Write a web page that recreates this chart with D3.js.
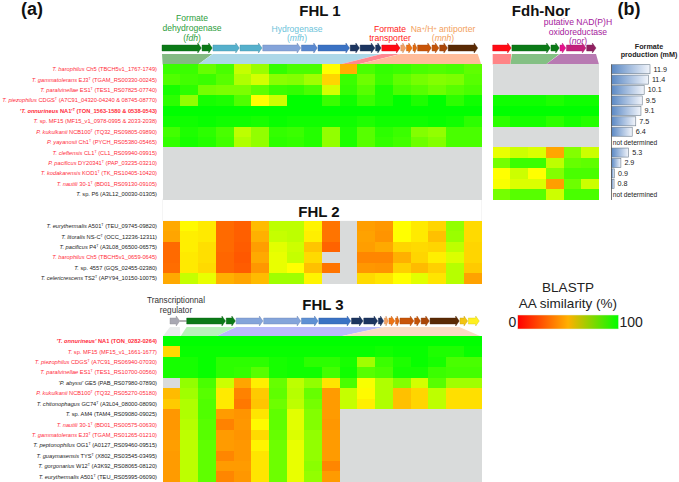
<!DOCTYPE html>
<html>
<head>
<meta charset="utf-8">
<script src="https://cdn.jsdelivr.net/npm/d3@7"></script>
<style>
html, body { margin: 0; padding: 0; background: #fff; }
svg { display: block; font-family: "Liberation Sans", Arial, sans-serif; }
</style>
</head>
<body>
<svg id="chart" width="679" height="482"></svg>
<script>
// labels: italic part | strain | superscript | locus tags
const fhl1Labels = [
	"T. barophilus|Ch5||TBCH5v1_1767-1749",
	"T. gammatolerans|EJ3|T|TGAM_RS00330-00245",
	"T. paralvinellae|ES1|T|TES1_RS07825-07740",
	"T. piezophilus|CDGS|T|A7C91_04320-04240 & 08745-08770",
	"'T. onnurineus|NA1'|T|TON_1563-1580 & 0538-0543",
	"T.|sp. MF15||MF15_v1_0978-0995 & 2033-2038",
	"P. kukulkanii|NCB100|T|TQ32_RS09805-09890",
	"P. yayanosii|Ch1|T|PYCH_RS05380-05465",
	"T. cleftensis|CL1|T|CL1_RS09940-09915",
	"P. pacificus|DY20341|T|PAP_03235-03210",
	"T. kodakarensis|KOD1|T|TK_RS10405-10420",
	"T. nautili|30-1|T|BD01_RS09130-09105",
	"T.|sp. P6||A3L12_00030-01305"
];
const fhl1Red = [0, 1, 2, 3, 4, 5, 6, 7, 8, 9, 10, 11];
const fhl1Bold = [4];

const fhl2Labels = [
	"T. eurythermalis|A501|T|TEU_09745-09820",
	"T. litoralis|NS-C|T|OCC_12236-12311",
	"T. pacificus|P4|T|A3L08_06500-06575",
	"T. barophilus|Ch5||TBCH5v1_0659-0645",
	"T.|sp. 4557||GQS_02455-02380",
	"T. celericrescens|TS2|T|APY94_10150-10075"
];
const fhl2Red = [3];

const fhl3Labels = [
	"'T. onnurineus'|NA1||TON_0282-0264",
	"T.|sp. MF15||MF15_v1_1661-1677",
	"T. piezophilus|CDGS|T|A7C91_RS06940-07030",
	"T. paralvinellae|ES1|T|TES1_RS10700-00560",
	"'P. abyssi'|GE5||PAB_RS07980-07890",
	"P. kukulkanii|NCB100|T|TQ32_RS05270-05180",
	"T. chitonophagus|GC74|T|A3L04_08000-08090",
	"T.|sp. AM4||TAM4_RS09080-09025",
	"T. nautili|30-1|T|BD01_RS00575-00630",
	"T. gammatolerans|EJ3|T|TGAM_RS01265-01210",
	"T. peptonophilus|OG1|T|A0127_RS09460-09515",
	"T. guaymasensis|TYS|T|X802_RS03545-03495",
	"T. gorgonarius|W12|T|A3K92_RS08065-08120",
	"T. eurythermalis|A501|T|TEU_RS05995-06090"
];
const fhl3Red = [0, 1, 2, 3, 5, 8, 9];
const fhl3Bold = [0];

// BLASTP similarity (%), null = no homolog
const fhl1Values = [
	[92, 92, 86, 90, 73, 79, 93, 90, 90, 65, 50, 90, 93, 92, 90, 89, 90, 87],
	[89, 91, 92, 88, 76, 71, 81, 82, 78, 57, 92, 85, 92, 87, 84, 82, 83, 88],
	[97, 94, 84, 83, 83, 87, 92, 93, 90, 71, 93, 88, 96, 90, 88, 85, 88, 90],
	[94, 80, 97, 96, 89, 65, 72, 100, 100, 92, 98, 92, 96, 100, 96, 100, 94, 98],
	[100, 100, 100, 100, 100, 100, 100, 100, 100, 100, 100, 100, 100, 100, 100, 100, 100, 100],
	[98, 98, 99, 98, 98, 97, 99, 98, 98, 98, 98, 96, 98, 98, 98, 99, 98, 94],
	[91, 96, 94, 90, 74, 80, 93, 92, 95, 80, 96, 88, 94, 92, 82, 80, 90, 90],
	[93, 97, 95, 91, 76, 80, 94, 93, 95, 80, 96, 88, 93, 91, 85, 82, 90, 90],
	[null, null, null, null, null, null, null, null, null, null, null, null, null, null, null, null, null, null],
	[null, null, null, null, null, null, null, null, null, null, null, null, null, null, null, null, null, null],
	[null, null, null, null, null, null, null, null, null, null, null, null, null, null, null, null, null, null],
	[null, null, null, null, null, null, null, null, null, null, null, null, null, null, null, null, null, null],
	[null, null, null, null, null, null, null, null, null, null, null, null, null, null, null, null, null, null]
];
const fdhNorValues = [
	[null, null, null, null, null, null],
	[null, null, null, null, null, null],
	[null, null, null, null, null, null],
	[98, 98, 98, 96, 98, 98],
	[100, 100, 100, 100, 100, 100],
	[94, 97, 97, 94, 97, 95],
	[null, null, null, null, null, null],
	[null, null, null, null, null, null],
	[68, 72, 70, 47, 82, 72],
	[84, 92, 92, 74, 86, 87],
	[65, 72, 65, 82, 90, 90],
	[66, 70, 70, 45, 85, 72],
	[84, 88, 88, 72, 90, 90]
];
const fhl2Values = [
	[48, 64, 61, 30, 27, 52, 74, 74, 63, 33, null, 45, 43, 65, 61, 57, 80, 58],
	[47, 62, 61, 30, 27, 50, 73, 74, 62, 33, null, 46, 42, 65, 61, 53, 79, 58],
	[30, 62, 59, 30, 26, 45, 69, 72, 54, 28, null, 45, 48, 57, 58, 57, 74, 57],
	[30, 61, 59, 29, 25, 48, 68, 73, 58, null, null, 38, 38, 50, 57, 62, 70, 57],
	[31, 61, 58, 29, 26, 43, 68, 65, 53, 33, null, 43, 42, 56, 52, 56, 75, 55],
	[48, 73, 68, 50, 47, 52, 78, 78, 63, null, null, 58, 60, 65, 69, 60, 75, 46]
];
const fhl3Values = [
	[100, 100, 100, 100, 100, 100, 100, 100, 100, 100, 100, 100, 100, 100, 100, 100, 100, 100],
	[58, 99, 99, 99, 99, 99, 99, 99, 99, 99, 99, 99, 98, 99, 99, 96, 96, 99],
	[97, 97, 99, 94, 94, 94, 97, 98, 94, 94, 97, 78, 92, 96, 99, 97, 90, 90],
	[97, 97, 99, 94, 93, 88, 97, 98, 98, 91, 98, 88, 90, 97, 97, 92, 91, 91],
	[null, 80, 90, 72, 47, 62, 86, 74, 80, 60, 90, 66, 76, 82, 71, 88, 78, 78],
	[52, 78, 88, 61, 37, 55, 87, 75, 86, 44, 73, 64, 76, 53, 57, 74, 59, 59],
	[55, 76, 89, 61, 34, 54, 85, 74, 84, 44, 73, 62, 76, 53, 57, 74, 59, 59],
	[43, 76, 89, 44, 42, 60, 87, 69, 82, 44, null, null, null, null, null, null, null, null],
	[43, 75, 88, 37, 43, 64, 87, 69, 82, 43, null, null, null, null, null, null, null, null],
	[44, 74, 88, 44, 42, 58, 86, 70, 80, 44, null, null, null, null, null, null, null, null],
	[45, 74, 87, 44, 43, 63, 85, 68, 80, 44, null, null, null, null, null, null, null, null],
	[44, 74, 87, 38, 43, 60, 85, 68, 80, 44, null, null, null, null, null, null, null, null],
	[44, 74, 87, 44, 44, 60, 85, 68, 81, 38, null, null, null, null, null, null, null, null],
	[44, 74, 87, 38, 43, 60, 85, 68, 80, 44, null, null, null, null, null, null, null, null]
];

// formate production (mM), same rows as FHL 1, null = not determined
const formate = [11.9, 11.4, 10.1, 9.5, 9.1, 7.5, 6.4, null, 5.3, 2.9, 0.9, 0.8, null];

// gene lengths (bp, estimated from the arrows)
const fhl1Genes = [2000, 520, 1340, 1120, 1930, 810, 1600, 470, 750, 280, 930, 250, 300, 200, 700, 350, 400, 1500];
const fdhNorGenes = [930, 1930, 420, 290, 980, 470];
const fhl3Genes = [500, 1980, 470, 1370, 1890, 850, 1630, 590, 710, 270, 200, 300, 190, 710, 300, 420, 1490, 390, 560];
const fhl3Spacer = 350;

const fhl1GeneColors = ["#0b7a17", "#0b7a17", "#55b0cc", "#55b0cc", "#84a4da", "#5a88d0", "#3a72c4", "#1c3560", "#1c3560", "#1c3560", "#ff0a14", "#f3a264", "#ee7414", "#e06a10", "#c85408", "#c45408", "#aa4608", "#5a2a04"];
const fdhNorGeneColors = ["#ff0a14", "#0b7a17", "#0b7a17", "#e6108c", "#c4207c", "#902060"];
const fhl3GeneColors = ["#a8a8b2", "#0b7a17", "#0b7a17", "#84a4da", "#84a4da", "#5f90d4", "#3a72c4", "#1c3560", "#1c3560", "#1c3560", "#f3a264", "#ee7414", "#e06a10", "#c85408", "#c45408", "#aa4608", "#5a2a04", "#f2c412", "#fff020"];

// links gene -> column: first gene, last gene, first column, last column
const fhl1Links = [[0, 1, 0, 1], [2, 9, 2, 9], [10, 10, 10, 10], [11, 17, 11, 17]];
const fhl1LinkColors = ["#84ba84", "#add8e8", "#ff8890", "#ffbc9a"];
const fdhNorLinks = [[0, 0, 0, 0], [1, 2, 1, 2], [3, 5, 3, 5]];
const fdhNorLinkColors = ["#ff8486", "#84c084", "#b87ab2"];
const fhl3Links = [[0, 0, 0, 0], [1, 2, 1, 2], [3, 9, 3, 9], [10, 16, 10, 17]];
const fhl3LinkColors = ["#e9ecec", "#b9f2ba", "#babafa", "#fadcc4"];

const svg = d3.select("#chart");
const rowH = 10.42;
const nullColor = "#d9dbdb";
const redText = "#ff2b3a";
const blackText = "#222";

// bright yellow in the cells sits between the legend's orange and green
const cellColor = d3.scaleLinear().domain([0, 50, 65, 100]).range(["#ff0000", "#ffb000", "#ffff00", "#00ff00"]);

const fhlX = d3.scaleBand().domain(d3.range(18)).range([162.7, 481.3]);
const norX = d3.scaleBand().domain(d3.range(6)).range([492.7, 599]);
const fhl1Y = d3.scaleBand().domain(d3.range(13)).range([64, 64 + 13 * rowH]);
const fhl2Y = d3.scaleBand().domain(d3.range(6)).range([221, 221 + 6 * rowH]);
const fhl3Y = d3.scaleBand().domain(d3.range(14)).range([336, 336 + 14 * rowH]);

const defs = svg.append("defs");
const barGrad = defs.append("linearGradient").attr("id", "barGrad");
barGrad.append("stop").attr("offset", "0%").attr("stop-color", "#5a88c4");
barGrad.append("stop").attr("offset", "100%").attr("stop-color", "#f2f5fb");
const legendGrad = defs.append("linearGradient").attr("id", "legendGrad");
[["0%", "#ff0000"], ["50%", "#ffb000"], ["100%", "#00ff00"]].forEach(s => {
	legendGrad.append("stop").attr("offset", s[0]).attr("stop-color", s[1]);
});

function drawHeat(values, x, y) {
	const g = svg.append("g").attr("shape-rendering", "crispEdges");
	values.forEach((row, r) => {
		g.selectAll(null)
			.data(row)
			.enter().append("rect")
			.attr("x", (d, c) => x(c))
			.attr("y", y(r))
			.attr("width", x.bandwidth() + 0.4)
			.attr("height", y.bandwidth() + 0.4)
			.attr("fill", d => d === null ? nullColor : cellColor(d));
	});
}

function drawLabels(labels, y, red, bold) {
	const t = svg.append("g").selectAll("text")
		.data(labels)
		.enter().append("text")
		.attr("x", 157)
		.attr("y", (d, i) => y(i) + y.bandwidth() / 2 + 2)
		.attr("text-anchor", "end")
		.style("font-size", "5.7px")
		.style("font-weight", (d, i) => bold.includes(i) ? "bold" : "normal")
		.attr("fill", (d, i) => red.includes(i) ? redText : blackText);
	t.each(function(d) {
		const p = d.split("|"), el = d3.select(this);
		el.append("tspan").style("font-style", "italic").text(p[0]);
		el.append("tspan").text(" " + p[1]);
		if (p[2]) {
			el.append("tspan").attr("dy", -2).style("font-size", "3.6px").text(p[2]);
			el.append("tspan").attr("dy", 2).text(" (" + p[3] + ")");
		} else {
			el.append("tspan").text(" (" + p[3] + ")");
		}
	});
}

// lay genes end to end, returns [{start, end}] in px
function layoutGenes(lengths, x0, x1, firstGap) {
	const gap = 35;
	let pos = 0;
	const out = lengths.map((len, i) => {
		if (i === 1 && firstGap) pos += firstGap;
		else if (i > 0) pos += gap;
		const g = { start: pos, end: pos + len };
		pos += len;
		return g;
	});
	const sx = d3.scaleLinear().domain([0, pos]).range([x0, x1]);
	return out.map(g => ({ start: sx(g.start), end: sx(g.end) }));
}

function arrowPath(g, cy) {
	const head = Math.min(3.6, (g.end - g.start) * 0.6);
	const neck = g.end - head;
	return d3.line()([
		[g.start, cy - 3], [neck, cy - 3], [neck, cy - 5], [g.end, cy],
		[neck, cy + 5], [neck, cy + 3], [g.start, cy + 3]
	]) + "Z";
}

function drawGenes(genes, colors, cy) {
	svg.append("g").selectAll("path")
		.data(genes)
		.enter().append("path")
		.attr("d", d => arrowPath(d, cy))
		.attr("fill", (d, i) => colors[i])
		.attr("stroke", (d, i) => d3.color(colors[i]).darker(0.6))
		.attr("stroke-width", 0.4);
}

function drawLinks(links, colors, genes, x, yTop, yBottom) {
	svg.append("g").selectAll("path")
		.data(links)
		.enter().append("path")
		.attr("d", d => d3.line()([
			[genes[d[0]].start, yTop], [genes[d[1]].end, yTop],
			[x(d[3]) + x.bandwidth(), yBottom], [x(d[2]), yBottom]
		]) + "Z")
		.attr("fill", (d, i) => colors[i]);
}

function addText(str, x, y, size, color, opts) {
	opts = opts || {};
	return svg.append("text")
		.attr("x", x)
		.attr("y", y)
		.attr("text-anchor", opts.anchor || "middle")
		.style("font-size", size + "px")
		.style("font-weight", opts.bold ? "bold" : "normal")
		.style("font-style", opts.italic ? "italic" : "normal")
		.attr("fill", color)
		.text(str);
}

// faint frame of the gap between FHL 1 and FHL 2
svg.append("rect")
	.attr("x", 162.7).attr("y", 199).attr("width", 318.6).attr("height", 22)
	.attr("fill", "none").attr("stroke", "#eeeeee").attr("stroke-width", 0.6);

const fhl1Layout = layoutGenes(fhl1Genes, 162, 477.7);
const norLayout = layoutGenes(fdhNorGenes, 492.7, 596);
const fhl3Layout = layoutGenes(fhl3Genes, 170, 479.3, fhl3Spacer);

drawLinks(fhl1Links, fhl1LinkColors, fhl1Layout, fhlX, 54, 64.5);
drawLinks(fdhNorLinks, fdhNorLinkColors, norLayout, norX, 54, 64.5);
drawLinks(fhl3Links, fhl3LinkColors, fhl3Layout, fhlX, 327, 336.5);

svg.append("line")
	.attr("x1", fhl3Layout[0].end).attr("x2", fhl3Layout[1].start)
	.attr("y1", 321).attr("y2", 321)
	.attr("stroke", "#222").attr("stroke-width", 0.7);

drawGenes(fhl1Layout, fhl1GeneColors, 48);
drawGenes(norLayout, fdhNorGeneColors, 48);
drawGenes(fhl3Layout, fhl3GeneColors, 321);

drawHeat(fhl1Values, fhlX, fhl1Y);
drawHeat(fdhNorValues, norX, fhl1Y);
drawHeat(fhl2Values, fhlX, fhl2Y);
drawHeat(fhl3Values, fhlX, fhl3Y);

drawLabels(fhl1Labels, fhl1Y, fhl1Red, fhl1Bold);
drawLabels(fhl2Labels, fhl2Y, fhl2Red, []);
drawLabels(fhl3Labels, fhl3Y, fhl3Red, fhl3Bold);

// panel titles
addText("(a)", 32, 15, 18, "#111", { bold: true });
addText("(b)", 629, 15, 18, "#111", { bold: true });
addText("FHL 1", 320, 16, 15, "#111", { bold: true });
addText("Fdh-Nor", 541, 16, 15, "#111", { bold: true });
addText("FHL 2", 319, 217, 15, "#111", { bold: true });
addText("FHL 3", 323, 310, 15, "#111", { bold: true });

// gene group captions
const green = "#2d9e3c", blue = "#6dc3da", red = "#ff2020", orange = "#f3a05c", purple = "#a5209c";
addText("Formate", 192, 21, 8.6, green);
addText("dehydrogenase", 192, 31, 8.6, green);
const fdhCap = addText("(", 192, 41, 8.6, green);
fdhCap.append("tspan").style("font-style", "italic").text("fdh");
fdhCap.append("tspan").text(")");
addText("Hydrogenase", 297, 32, 8.6, blue);
const mfhCap = addText("(", 297, 41, 8.6, blue);
mfhCap.append("tspan").style("font-style", "italic").text("mfh");
mfhCap.append("tspan").text(")");
addText("Formate", 390, 32, 8.6, red);
addText("transporter", 390, 41, 8.6, red);
const naCap = addText("Na", 443, 32, 8.6, orange);
naCap.append("tspan").attr("dy", -2).style("font-size", "5.5px").text("+");
naCap.append("tspan").attr("dy", 2).text("/H");
naCap.append("tspan").attr("dy", -2).style("font-size", "5.5px").text("+");
naCap.append("tspan").attr("dy", 2).text(" antiporter");
const mnhCap = addText("(", 443, 41, 8.6, orange);
mnhCap.append("tspan").style("font-style", "italic").text("mnh");
mnhCap.append("tspan").text(")");
addText("putative NAD(P)H", 578, 25, 8.6, purple);
addText("oxidoreductase", 578, 35, 8.6, purple);
const norCap = addText("(", 578, 44, 8.6, purple);
norCap.append("tspan").style("font-style", "italic").text("nor");
norCap.append("tspan").text(")");
addText("Transcriptionnal", 176, 303, 8.2, "#333");
addText("regulator", 176, 313, 8.2, "#333");

// panel (b): formate bars
const barX = d3.scaleLinear().domain([0, 11.9]).range([611.5, 650]);
addText("Formate", 649, 48.5, 7.2, "#222", { bold: true });
addText("production (mM)", 649, 56.8, 7.2, "#222", { bold: true });

svg.append("g")
	.selectAll("rect")
	.data(formate.map((v, i) => ({ v: v, i: i })).filter(d => d.v !== null))
	.enter().append("rect")
	.attr("x", barX(0))
	.attr("y", d => fhl1Y(d.i) + 0.7)
	.attr("width", d => barX(d.v) - barX(0))
	.attr("height", fhl1Y.bandwidth() - 1.4)
	.attr("fill", "url(#barGrad)")
	.attr("stroke", "#6c7c8c")
	.attr("stroke-width", 0.6);

svg.append("g").selectAll("text")
	.data(formate)
	.enter().append("text")
	.attr("x", d => d === null ? 612.7 : barX(d) + 3.5)
	.attr("y", (d, i) => fhl1Y(i) + fhl1Y.bandwidth() / 2 + 2.4)
	.style("font-size", d => d === null ? "6.7px" : "7.2px")
	.attr("fill", "#222")
	.text(d => d === null ? "not determined" : d.toFixed(1));

svg.append("g")
	.attr("transform", "translate(611,0)")
	.call(d3.axisLeft(fhl1Y).tickSize(0).tickFormat(""))
	.call(g => g.select(".domain").attr("stroke", "#555").attr("stroke-width", 0.8));

// similarity legend
const legendX = d3.scaleLinear().domain([0, 100]).range([517.7, 618.5]);
addText("BLASTP", 568, 292, 13.5, "#222");
addText("AA similarity (%)", 568, 308, 13.5, "#222");
svg.append("rect")
	.attr("x", legendX(0)).attr("y", 315)
	.attr("width", legendX(100) - legendX(0)).attr("height", 14)
	.attr("fill", "url(#legendGrad)")
	.attr("stroke", "#e4f2d8").attr("stroke-width", 0.5);
addText("0", legendX(0) - 1.5, 327, 14, "#222", { anchor: "end" });
addText("100", legendX(100) + 1, 327, 14, "#222", { anchor: "start" });
</script>
</body>
</html>
